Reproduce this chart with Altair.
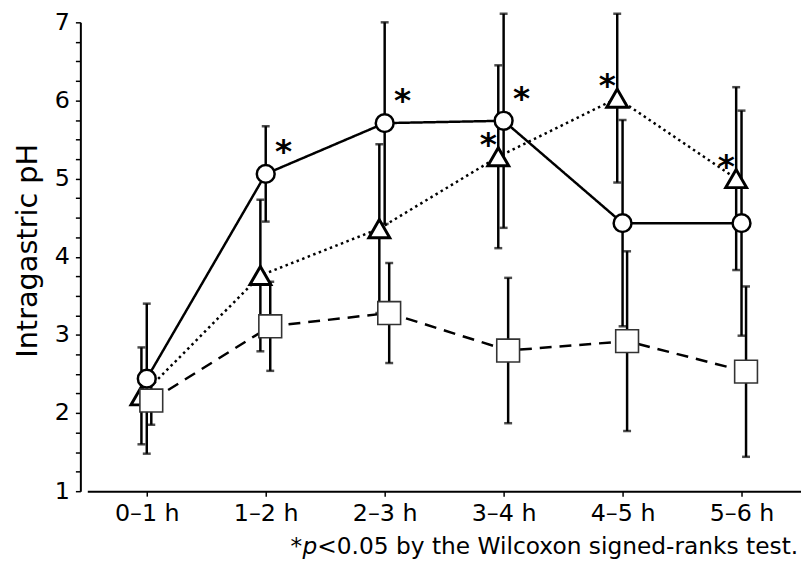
import json
import altair as alt
import pandas as pd

# ---------------- data ----------------
hours = ["0–1 h", "1–2 h", "2–3 h", "3–4 h", "4–5 h", "5–6 h"]

circle_mean = [2.44, 5.06, 5.71, 5.74, 4.43, 4.43]
circle_sd = [0.96, 0.61, 1.29, 1.37, 1.32, 1.44]

triangle_mean = [2.22, 3.76, 4.36, 5.28, 6.03, 5.00]
triangle_sd = [0.62, 0.97, 1.08, 1.17, 1.08, 1.17]

square_mean = [2.16, 3.11, 3.28, 2.80, 2.92, 2.53]
square_sd = [0.31, 0.57, 0.64, 0.93, 1.15, 1.09]

star_circle_hours = ["1–2 h", "2–3 h", "3–4 h"]
star_triangle_hours = ["3–4 h", "4–5 h", "5–6 h"]

y_tick_values = [1 + 0.25 * k for k in range(25)]

footnote_star = "*"
footnote_p = "p"
footnote_rest = "<0.05 by the Wilcoxon signed-ranks test."

# ---------------- styling (not data) ----------------
dodge = {"circle": 0.0, "triangle": -0.045, "square": 0.038}
FONT = "DejaVu Sans"
PLOT_H = 473

rows = []
for name, means, sds in [("circle", circle_mean, circle_sd),
                         ("triangle", triangle_mean, triangle_sd),
                         ("square", square_mean, square_sd)]:
    for i, (m, s) in enumerate(zip(means, sds)):
        rows.append(dict(series=name, hour=hours[i], x=i + dodge[name],
                         mean=m, lo=m - s, hi=m + s))
df = pd.DataFrame(rows)

stars = df[((df.series == "circle") & df.hour.isin(star_circle_hours)) |
           ((df.series == "triangle") & df.hour.isin(star_triangle_hours))]

label_expr = json.dumps(hours, ensure_ascii=False) + "[datum.value]"

xscale = alt.Scale(domain=[-0.5, 5.5], nice=False, zero=False)
yscale = alt.Scale(domain=[1, 7], nice=False, zero=False)

xaxis = alt.Axis(values=list(range(6)), labelExpr=label_expr, title=None,
                 tickSize=5, labelPadding=6, grid=False)
yaxis = alt.Axis(values=y_tick_values, offset=7, tickSize=5, grid=False,
                 labelExpr="datum.value % 1 == 0 ? format(datum.value, 'd') : ''",
                 title="Intragastric pH", titleFontSize=29,
                 titleFontWeight="normal", titleX=-44, titleY=230,
                 titleAngle=-90, titleAlign="center", titleBaseline="alphabetic",
                 labelPadding=6)


def X():
    return alt.X("x:Q", scale=xscale, axis=xaxis)


def Y(field):
    return alt.Y(field, type="quantitative", scale=yscale, axis=yaxis)


base = alt.Chart(df)

rules = base.mark_rule(strokeWidth=2.5, color="black").encode(
    x=X(), y=Y("lo"), y2="hi:Q")

caps = base.transform_fold(["lo", "hi"], as_=["end", "val"]).mark_tick(
    orient="horizontal", size=8, thickness=2.5, color="black").encode(
    x=X(), y=Y("val"))

lines = base.mark_line(strokeWidth=2.5, color="black").encode(
    x=X(), y=Y("mean"),
    detail="series:N",
    strokeDash=alt.StrokeDash("series:N", legend=None,
                              scale=alt.Scale(domain=["circle", "triangle", "square"],
                                              range=[[1, 0], [2.5, 3.5], [12, 8]])))

pt_circle = base.transform_filter(alt.datum.series == "circle").mark_point(
    shape="circle", filled=True, fill="white", stroke="black", strokeWidth=2.5,
    size=324, opacity=1).encode(x=X(), y=Y("mean"))
pt_tri = base.transform_filter(alt.datum.series == "triangle").mark_point(
    shape="triangle-up", filled=True, fill="white", stroke="black", strokeWidth=3,
    size=441, opacity=1).encode(x=X(), y=Y("mean"))
pt_sq = base.transform_filter(alt.datum.series == "square").mark_point(
    shape="square", filled=True, fill="white", stroke="#333333", strokeWidth=1.6,
    size=529, opacity=1).encode(x=X(), y=Y("mean"))

star_base = alt.Chart(stars)
star_c = star_base.transform_filter(alt.datum.series == "circle").mark_text(
    text="*", font=FONT, fontSize=33, fontWeight="bold", dx=18, dy=-22,
    color="black").encode(x=X(), y=Y("mean"))
star_t = star_base.transform_filter(alt.datum.series == "triangle").mark_text(
    text="*", font=FONT, fontSize=33, fontWeight="bold", dx=-10, dy=-12,
    color="black").encode(x=X(), y=Y("mean"))

one = pd.DataFrame({"k": [0]})
foot_y = 536
FS = 23.5
fn1 = alt.Chart(one).mark_text(text=footnote_star, font=FONT, fontSize=FS, align="left",
                               baseline="alphabetic", color="black").encode(
    x=alt.value(205), y=alt.value(foot_y))
fn2 = alt.Chart(one).mark_text(text=footnote_p, font=FONT, fontSize=FS, fontStyle="italic",
                               align="left", baseline="alphabetic", color="black").encode(
    x=alt.value(217), y=alt.value(foot_y))
fn3 = alt.Chart(one).mark_text(text=footnote_rest, font=FONT,
                               fontSize=FS, align="left", baseline="alphabetic",
                               color="black").encode(
    x=alt.value(232), y=alt.value(foot_y))

chart = alt.layer(rules, caps, lines, pt_circle, pt_tri, pt_sq, star_c, star_t,
                  fn1, fn2, fn3).properties(
    width=720, height=PLOT_H,
    background="white",
    autosize=alt.AutoSizeParams(type="none"),
    padding={"left": 80, "top": 12, "right": 0, "bottom": 71},
).configure_view(stroke=None).configure_axis(
    domainColor="black", domainWidth=2, tickColor="black", tickWidth=1.5,
    labelFont=FONT, labelFontSize=24, labelColor="black", titleFont=FONT,
    titleColor="black", grid=False,
)

chart.save("out.html", embed_options={"renderer": "svg", "actions": False})
